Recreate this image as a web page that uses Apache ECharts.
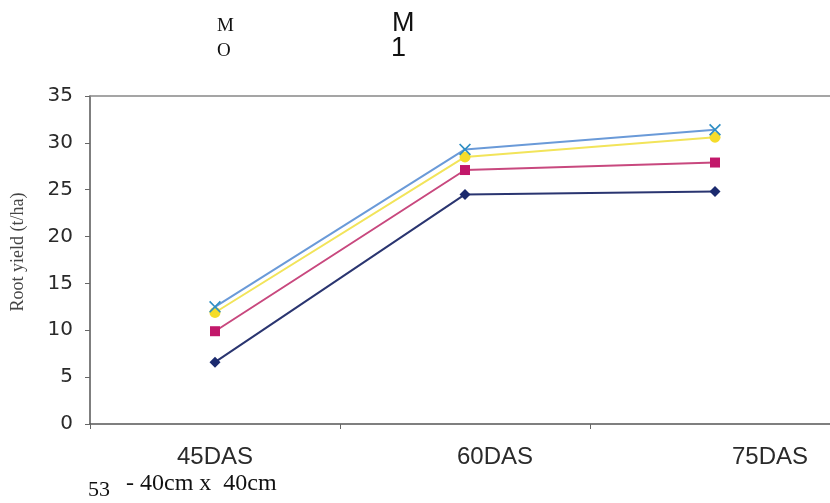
<!DOCTYPE html>
<html>
<head>
<meta charset="utf-8">
<script src="https://cdn.jsdelivr.net/npm/echarts@6/dist/echarts.min.js"></script>
<style>html,body{margin:0;padding:0;background:#fff}#c{width:830px;height:503px}</style>
</head>
<body>
<div id="c"></div>
<script>
var categories = ['45DAS', '60DAS', '75DAS'];
var seriesNavy = [6.6, 24.5, 24.8];
var seriesMagenta = [9.9, 27.1, 27.9];
var seriesYellow = [11.9, 28.5, 30.6];
var seriesCyan = [12.5, 29.3, 31.4];
var yTicks = [0, 5, 10, 15, 20, 25, 30, 35];
var yTitle = 'Root yield (t/ha)';
var footText = '- 40cm x  40cm';
var footNum = '53';

var labelShift = {'45DAS': 'a', '60DAS': 'b', '75DAS': 'c'};
var xSym = 'path://M0,1L1,0L5,4L9,0L10,1L6,5L10,9L9,10L5,6L1,10L0,9L4,5Z';

var chart = echarts.init(document.getElementById('c'), null, {renderer: 'canvas'});
function mk(name, data, color, lineColor, symbol, size) {
  return {
    name: name, type: 'line', data: data, symbol: symbol, symbolSize: size,
    itemStyle: {color: color}, lineStyle: {color: lineColor, width: 2},
    emphasis: {disabled: true}, z: 3
  };
}
var xl = {fontFamily: 'Liberation Sans', fontSize: 24, color: '#2a2a2a'};
chart.setOption({
  animation: false,
  grid: {left: 90, width: 750, top: 96, bottom: 79, containLabel: false, outerBoundsMode: 'none'},
  xAxis: [{
    type: 'category', data: categories, boundaryGap: true,
    axisLine: {lineStyle: {color: '#555', width: 1.5}},
    axisTick: {show: true, length: 5, lineStyle: {color: '#666'}},
    axisLabel: {
      margin: 21, fontFamily: 'Liberation Sans', fontSize: 24, color: '#2a2a2a',
      formatter: function (v) { return '{' + labelShift[v] + '|' + v + '}'; },
      rich: {
        a: Object.assign({padding: [0, 0, 0, 0]}, xl),
        b: Object.assign({padding: [0, 0, 0, 60]}, xl),
        c: Object.assign({padding: [0, 0, 0, 110]}, xl)
      }
    },
    splitLine: {show: false}
  }, {
    type: 'category', data: categories, position: 'top',
    axisLine: {lineStyle: {color: '#888', width: 1.5}},
    axisTick: {show: false}, axisLabel: {show: false}, splitLine: {show: false}
  }],
  yAxis: {
    type: 'value', min: yTicks[0], max: yTicks[yTicks.length - 1], interval: 5,
    axisLine: {show: true, lineStyle: {color: '#555', width: 1.5}},
    axisTick: {show: true, inside: false, length: 5, lineStyle: {color: '#666'}},
    axisLabel: {margin: 17, fontFamily: 'DejaVu Sans', fontSize: 20, color: '#2a2a2a'},
    splitLine: {show: false},
    name: yTitle, nameLocation: 'middle', nameGap: 63, nameRotate: 90,
    nameTextStyle: {fontFamily: 'Liberation Serif', fontSize: 18, color: '#444', padding: [0, 0, 0, 16]}
  },
  series: [
    mk('s1', seriesNavy, '#1b2a6e', '#2a3570', 'diamond', 11),
    mk('s2', seriesMagenta, '#c2186a', '#c8487e', 'rect', 10),
    mk('s3', seriesYellow, '#f5dc2a', '#f2e45a', 'circle', 11),
    mk('s4', seriesCyan, '#2f8fc4', '#6a9ad8', xSym, 12)
  ],
  graphic: [
    {type: 'text', left: 217, top: 17, style: {text: 'M', fontFamily: 'Liberation Serif', fontSize: 19, fill: '#111'}},
    {type: 'text', left: 217, top: 42, style: {text: 'O', fontFamily: 'Liberation Serif', fontSize: 19, fill: '#111'}},
    {type: 'text', left: 392, top: 10, style: {text: 'M', fontFamily: 'Liberation Sans', fontSize: 27, fill: '#111'}},
    {type: 'text', left: 391, top: 35, style: {text: '1', fontFamily: 'Liberation Sans', fontSize: 27, fill: '#111'}},
    {type: 'text', left: 88, top: 479, style: {text: footNum, fontFamily: 'Liberation Serif', fontSize: 22, fill: '#111'}},
    {type: 'text', left: 126, top: 472, style: {text: footText, fontFamily: 'Liberation Serif', fontSize: 24, fill: '#111'}}
  ]
});
</script>
</body>
</html>
